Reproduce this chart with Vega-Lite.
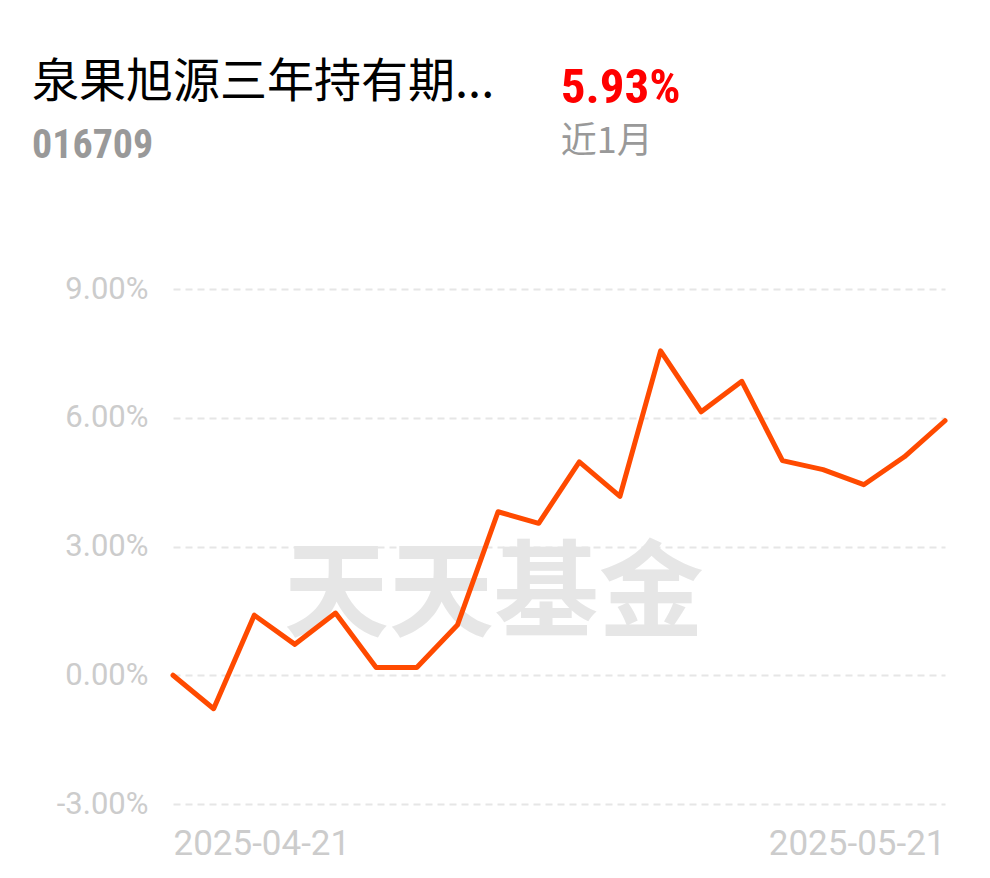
{
  "$schema": "https://vega.github.io/schema/vega-lite/v6.json",
  "autosize": "none",
  "width": 772,
  "height": 515,
  "padding": {"left": 173, "top": 289, "right": 45, "bottom": 74},
  "background": "#ffffff",
  "config": {"view": {"stroke": null}},
  "datasets": {
    "nav": [
      {"date": "2025-04-21", "value": 0.00},
      {"date": "2025-04-22", "value": -0.78},
      {"date": "2025-04-23", "value": 1.40},
      {"date": "2025-04-24", "value": 0.72},
      {"date": "2025-04-25", "value": 1.45},
      {"date": "2025-04-28", "value": 0.18},
      {"date": "2025-04-29", "value": 0.18},
      {"date": "2025-04-30", "value": 1.17},
      {"date": "2025-05-06", "value": 3.81},
      {"date": "2025-05-07", "value": 3.54},
      {"date": "2025-05-08", "value": 4.97},
      {"date": "2025-05-09", "value": 4.17},
      {"date": "2025-05-12", "value": 7.56},
      {"date": "2025-05-13", "value": 6.14},
      {"date": "2025-05-14", "value": 6.85},
      {"date": "2025-05-15", "value": 5.00},
      {"date": "2025-05-16", "value": 4.79},
      {"date": "2025-05-19", "value": 4.44},
      {"date": "2025-05-20", "value": 5.09},
      {"date": "2025-05-21", "value": 5.93}
    ],
    "header": [{"name": "泉果旭源三年持有期...", "code": "016709", "ret": "5.93%", "period": "近1月", "wm": "天天基金"}]
  },
  "encoding": {
    "x": {
      "field": "date",
      "type": "ordinal",
      "sort": null,
      "scale": {
        "type": "point",
        "padding": 0,
        "domain": ["2025-04-21", "2025-04-22", "2025-04-23", "2025-04-24", "2025-04-25", "2025-04-28", "2025-04-29", "2025-04-30", "2025-05-06", "2025-05-07", "2025-05-08", "2025-05-09", "2025-05-12", "2025-05-13", "2025-05-14", "2025-05-15", "2025-05-16", "2025-05-19", "2025-05-20", "2025-05-21"]
      },
      "axis": {
        "title": null,
        "values": ["2025-04-21", "2025-05-21"],
        "labelFlush": true,
        "labelAngle": 0,
        "domain": false,
        "ticks": false,
        "grid": false,
        "labelFont": "Roboto",
        "labelFontSize": 35,
        "labelColor": "#cccccc",
        "labelPadding": 22
      }
    },
    "y": {
      "field": "value",
      "type": "quantitative",
      "scale": {"domain": [-3, 9], "nice": false, "zero": false},
      "axis": {
        "title": null,
        "values": [-3, 0, 3, 6, 9],
        "labelExpr": "replace(format(datum.value, '.2f'), '\u2212', '-') + '%'",
        "domain": false,
        "ticks": false,
        "grid": true,
        "gridColor": "#e6e6e6",
        "gridWidth": 2,
        "gridDash": [7, 5],
        "labelFont": "Roboto",
        "labelFontSize": 31,
        "labelColor": "#cccccc",
        "labelPadding": 25
      }
    }
  },
  "layer": [
    {
      "data": {"name": "header"},
      "mark": {
        "type": "text",
        "font": "Noto Sans CJK SC",
        "fontWeight": "bold",
        "fontSize": 105,
        "color": "#e6e6e6",
        "align": "center",
        "baseline": "middle",
        "dx": -45
      },
      "encoding": {
        "x": {"datum": "2025-05-07"},
        "y": {"value": 307},
        "text": {"field": "wm", "type": "nominal"}
      }
    },
    {
      "data": {"name": "nav"},
      "mark": {
        "type": "line",
        "color": "#ff4a00",
        "strokeWidth": 5,
        "strokeJoin": "round",
        "strokeCap": "round"
      }
    },
    {
      "data": {"name": "header"},
      "mark": {
        "type": "text",
        "font": "Noto Sans CJK SC",
        "fontSize": 47,
        "color": "#000000",
        "align": "left",
        "baseline": "alphabetic"
      },
      "encoding": {
        "x": {"value": -141},
        "y": {"value": -192},
        "text": {"field": "name", "type": "nominal"}
      }
    },
    {
      "data": {"name": "header"},
      "mark": {
        "type": "text",
        "font": "Roboto Condensed, Liberation Sans Narrow, Roboto",
        "fontWeight": "bold",
        "fontSize": 40,
        "color": "#999999",
        "align": "left",
        "baseline": "alphabetic"
      },
      "encoding": {
        "x": {"value": -141},
        "y": {"value": -131},
        "text": {"field": "code", "type": "nominal"}
      }
    },
    {
      "data": {"name": "header"},
      "mark": {
        "type": "text",
        "font": "Roboto Condensed, Liberation Sans Narrow, Roboto",
        "fontWeight": "bold",
        "fontSize": 49,
        "color": "#ff0000",
        "align": "left",
        "baseline": "alphabetic",
        "dx": 22
      },
      "encoding": {
        "x": {"datum": "2025-05-07"},
        "y": {"value": -186},
        "text": {"field": "ret", "type": "nominal"}
      }
    },
    {
      "data": {"name": "header"},
      "mark": {
        "type": "text",
        "font": "Noto Sans CJK SC",
        "fontSize": 36,
        "color": "#999999",
        "align": "left",
        "baseline": "alphabetic",
        "dx": 22
      },
      "encoding": {
        "x": {"datum": "2025-05-07"},
        "y": {"value": -136},
        "text": {"field": "period", "type": "nominal"}
      }
    }
  ]
}
